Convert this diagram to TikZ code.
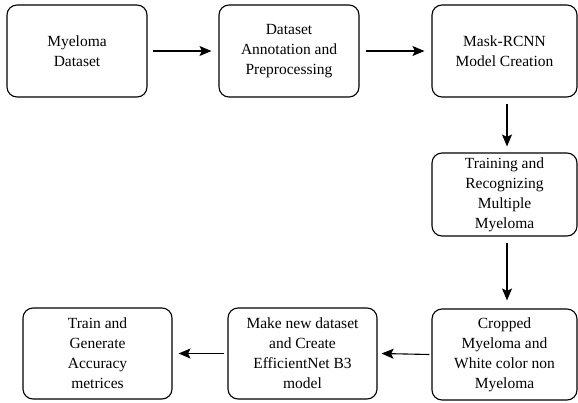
\documentclass[tikz,border=0pt]{standalone}
\usepackage{fontspec}
\setmainfont{Liberation Serif}
\usetikzlibrary{arrows.meta}
\begin{document}
\begin{tikzpicture}[x=1pt,y=-1pt,
  box/.style={draw, line width=1.1pt, rounded corners=10pt, align=center,
    font=\fontsize{15.5}{20}\selectfont, inner sep=2pt},
  arr/.style={line width=1.1pt, -{Stealth[length=12pt,width=10pt,inset=2.5pt]}}]
\useasboundingbox (0,0) rectangle (578,402);
\node[box, minimum width=140pt, minimum height=92pt] (b1) at (77,51) {Myeloma\\Dataset};
\node[box, minimum width=140pt, minimum height=92pt] (b2) at (289,51) {Dataset\\Annotation and\\Preprocessing};
\node[box, minimum width=145pt, minimum height=92pt] (b3) at (504.5,51) {Mask-RCNN\\Model Creation};
\node[box, minimum width=145pt, minimum height=83pt] (b4) at (504.5,194.5) {Training and\\Recognizing\\Multiple\\Myeloma};
\node[box, minimum width=145pt, minimum height=91pt] (b5) at (504.5,354.5) {Cropped\\Myeloma and\\White color non\\Myeloma};
\node[box, minimum width=149pt, minimum height=91pt] (b6) at (302.5,353.5) {Make new dataset\\and Create\\EfficientNet B3\\model};
\node[box, minimum width=149pt, minimum height=91pt] (b7) at (97.5,353.5) {Train and\\Generate\\Accuracy\\metrices};
\draw[arr] ([xshift=5pt]b1.east) -- ([xshift=-7pt]b2.west);
\draw[arr] ([xshift=6pt]b2.east) -- ([xshift=-7pt]b3.west);
\draw[arr] ([xshift=2.5pt,yshift=-6pt]b3.south) -- ([xshift=2.5pt,yshift=6pt]b4.north);
\draw[arr] ([xshift=2.5pt,yshift=-6pt]b4.south) -- ([xshift=2.5pt,yshift=8pt]b5.north);
\draw[arr] ([xshift=-2pt]b5.west) -- ([xshift=4pt]b6.east);
\draw[arr] ([xshift=-3pt]b6.west) -- ([xshift=6pt]b7.east);
\end{tikzpicture}
\end{document}
